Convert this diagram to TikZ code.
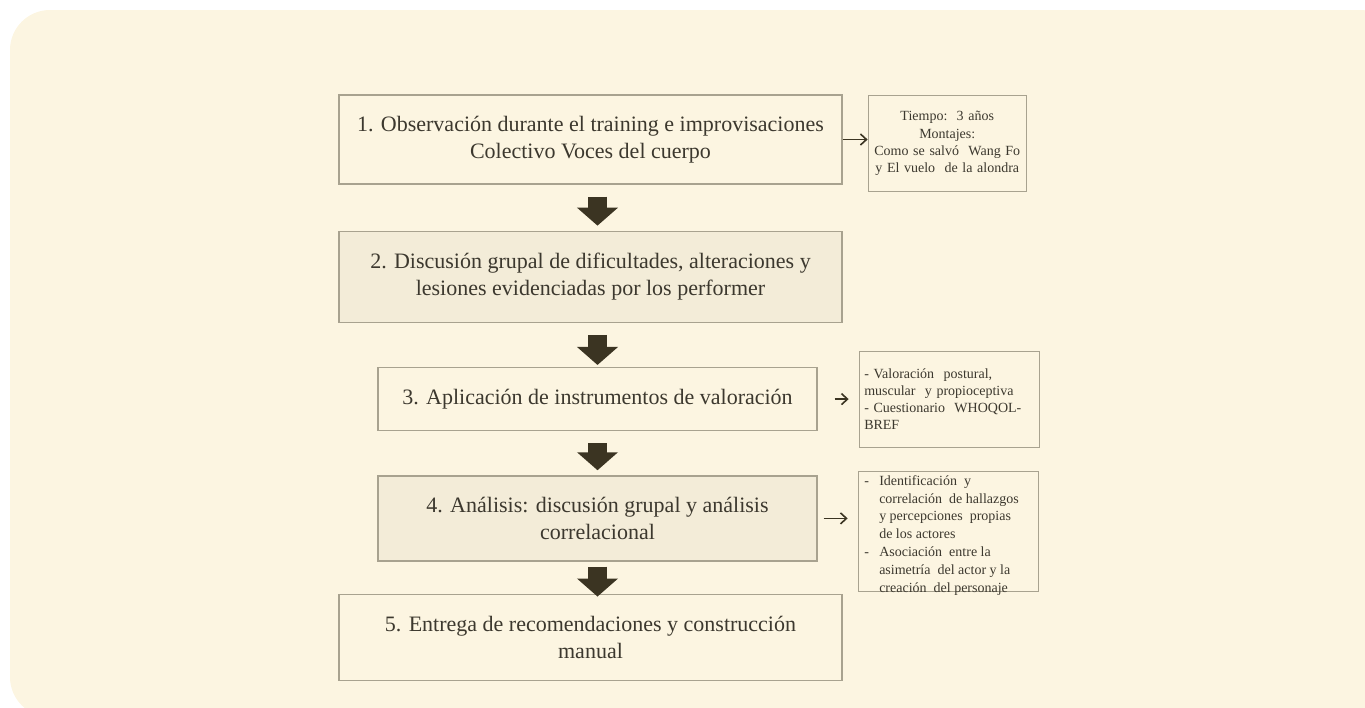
\documentclass[tikz,border=0pt]{standalone}
\usepackage{fontspec}
\setmainfont{Liberation Serif}
\usetikzlibrary{positioning, arrows.meta}
\definecolor{paper}{RGB}{252,245,225}
\definecolor{boxfill}{RGB}{243,236,216}
\definecolor{frame}{RGB}{168,162,143}
\definecolor{ink}{RGB}{60,56,46}
\definecolor{arrowink}{RGB}{59,52,34}
\newcommand{\sidedash}{\makebox[15pt][l]{-}}
\newcommand{\sideindent}{\hspace*{15pt}}

\begin{document}
\begin{tikzpicture}[
  every node/.style={inner sep=2pt, text=ink},
  stepbox/.style={draw=frame, line width=1.3pt, align=center,
                  font=\fontsize{22}{27}\selectfont, minimum width=503pt},
  shadedbox/.style={stepbox, fill=boxfill},
  note/.style={draw=frame, line width=1.2pt, inner xsep=5pt, inner ysep=4pt,
               font=\fontsize{14}{17.3}\selectfont, minimum height=96pt},
  bigarrow/.style={arrowink, line width=19pt,
                   -{Triangle[length=18pt, width=40pt]}},
  arrow/.style={-{Straight Barb[length=6pt, width=11pt]}, arrowink, line width=1.6pt}]
\useasboundingbox (0,0) rectangle (1365pt,-707pt);
\fill[paper, rounded corners=40pt] (10pt,-10pt) rectangle (1400pt,-717pt);

\node[stepbox, minimum height=89pt] (b1) at (590.5pt,-139.5pt)
  {1. Observación durante el training e improvisaciones\\
   Colectivo Voces del cuerpo};
\node[shadedbox, minimum height=91pt, below=46pt of b1] (b2)
  {2. Discusión grupal de dificultades, alteraciones y\\
   lesiones evidenciadas por los performer};
\node[stepbox, minimum width=439pt, minimum height=63pt,
      below=44pt of b2, xshift=7pt] (b3)
  {3. Aplicación de instrumentos de valoración};
\node[shadedbox, minimum width=439pt, minimum height=85pt, below=44pt of b3] (b4)
  {4. Análisis: discusión grupal y análisis\\ correlacional};
\node[stepbox, minimum height=86pt, below=32pt of b4, xshift=-7pt] (b5)
  {5. Entrega de recomendaciones y construcción\\ manual};

\node[note, text width=156pt, inner xsep=1pt, align=center,
      right=25pt of b1, yshift=-4pt] (s1)
  {Tiempo:\ \ 3 años\\ Montajes:\\ Como se salvó\ \ Wang Fo\\
   y El vuelo\ \ de la alondra};
\node[note, text width=170pt, align=left, right=41pt of b3] (s2)
  {- Valoración\ \ postural,\\ muscular\ \ y propioceptiva\\
   - Cuestionario\ \ WHOQOL-\\ BREF};
\node[note, inner xsep=6pt, right=40pt of b4, yshift=-13pt] (s3)
  {\parbox[c][112pt][t]{168pt}{\fontsize{14}{17.8}\selectfont\raggedright
   \sidedash Identificación\ \ y\\
   \sideindent correlación\ \ de hallazgos\\
   \sideindent y percepciones\ \ propias\\
   \sideindent de los actores\\
   \sidedash Asociación\ \ entre la\\
   \sideindent asimetría\ \ del actor y la\\
   \sideindent creación\ \ del personaje}};

\draw[bigarrow, shorten <=12pt, shorten >=5pt] (b1.south -| b3) -- (b2.north -| b3);
\draw[bigarrow, shorten <=12pt, shorten >=2pt] (b2.south -| b3) -- (b3.north);
\draw[bigarrow, shorten <=12pt, shorten >=5pt] (b3.south) -- (b4.north);
\draw[bigarrow, shorten <=5pt, shorten >=-3pt] (b4.south) -- (b5.north -| b3);

\draw[arrow] (b1.east) -- (b1.east -| s1.west);
\draw[arrow, shorten <=17pt, shorten >=10pt] (b3) -- (s2);
\draw[arrow, shorten <=6pt, shorten >=10pt] (b4.east) -- (b4.east -| s3.west);
\end{tikzpicture}
\end{document}
